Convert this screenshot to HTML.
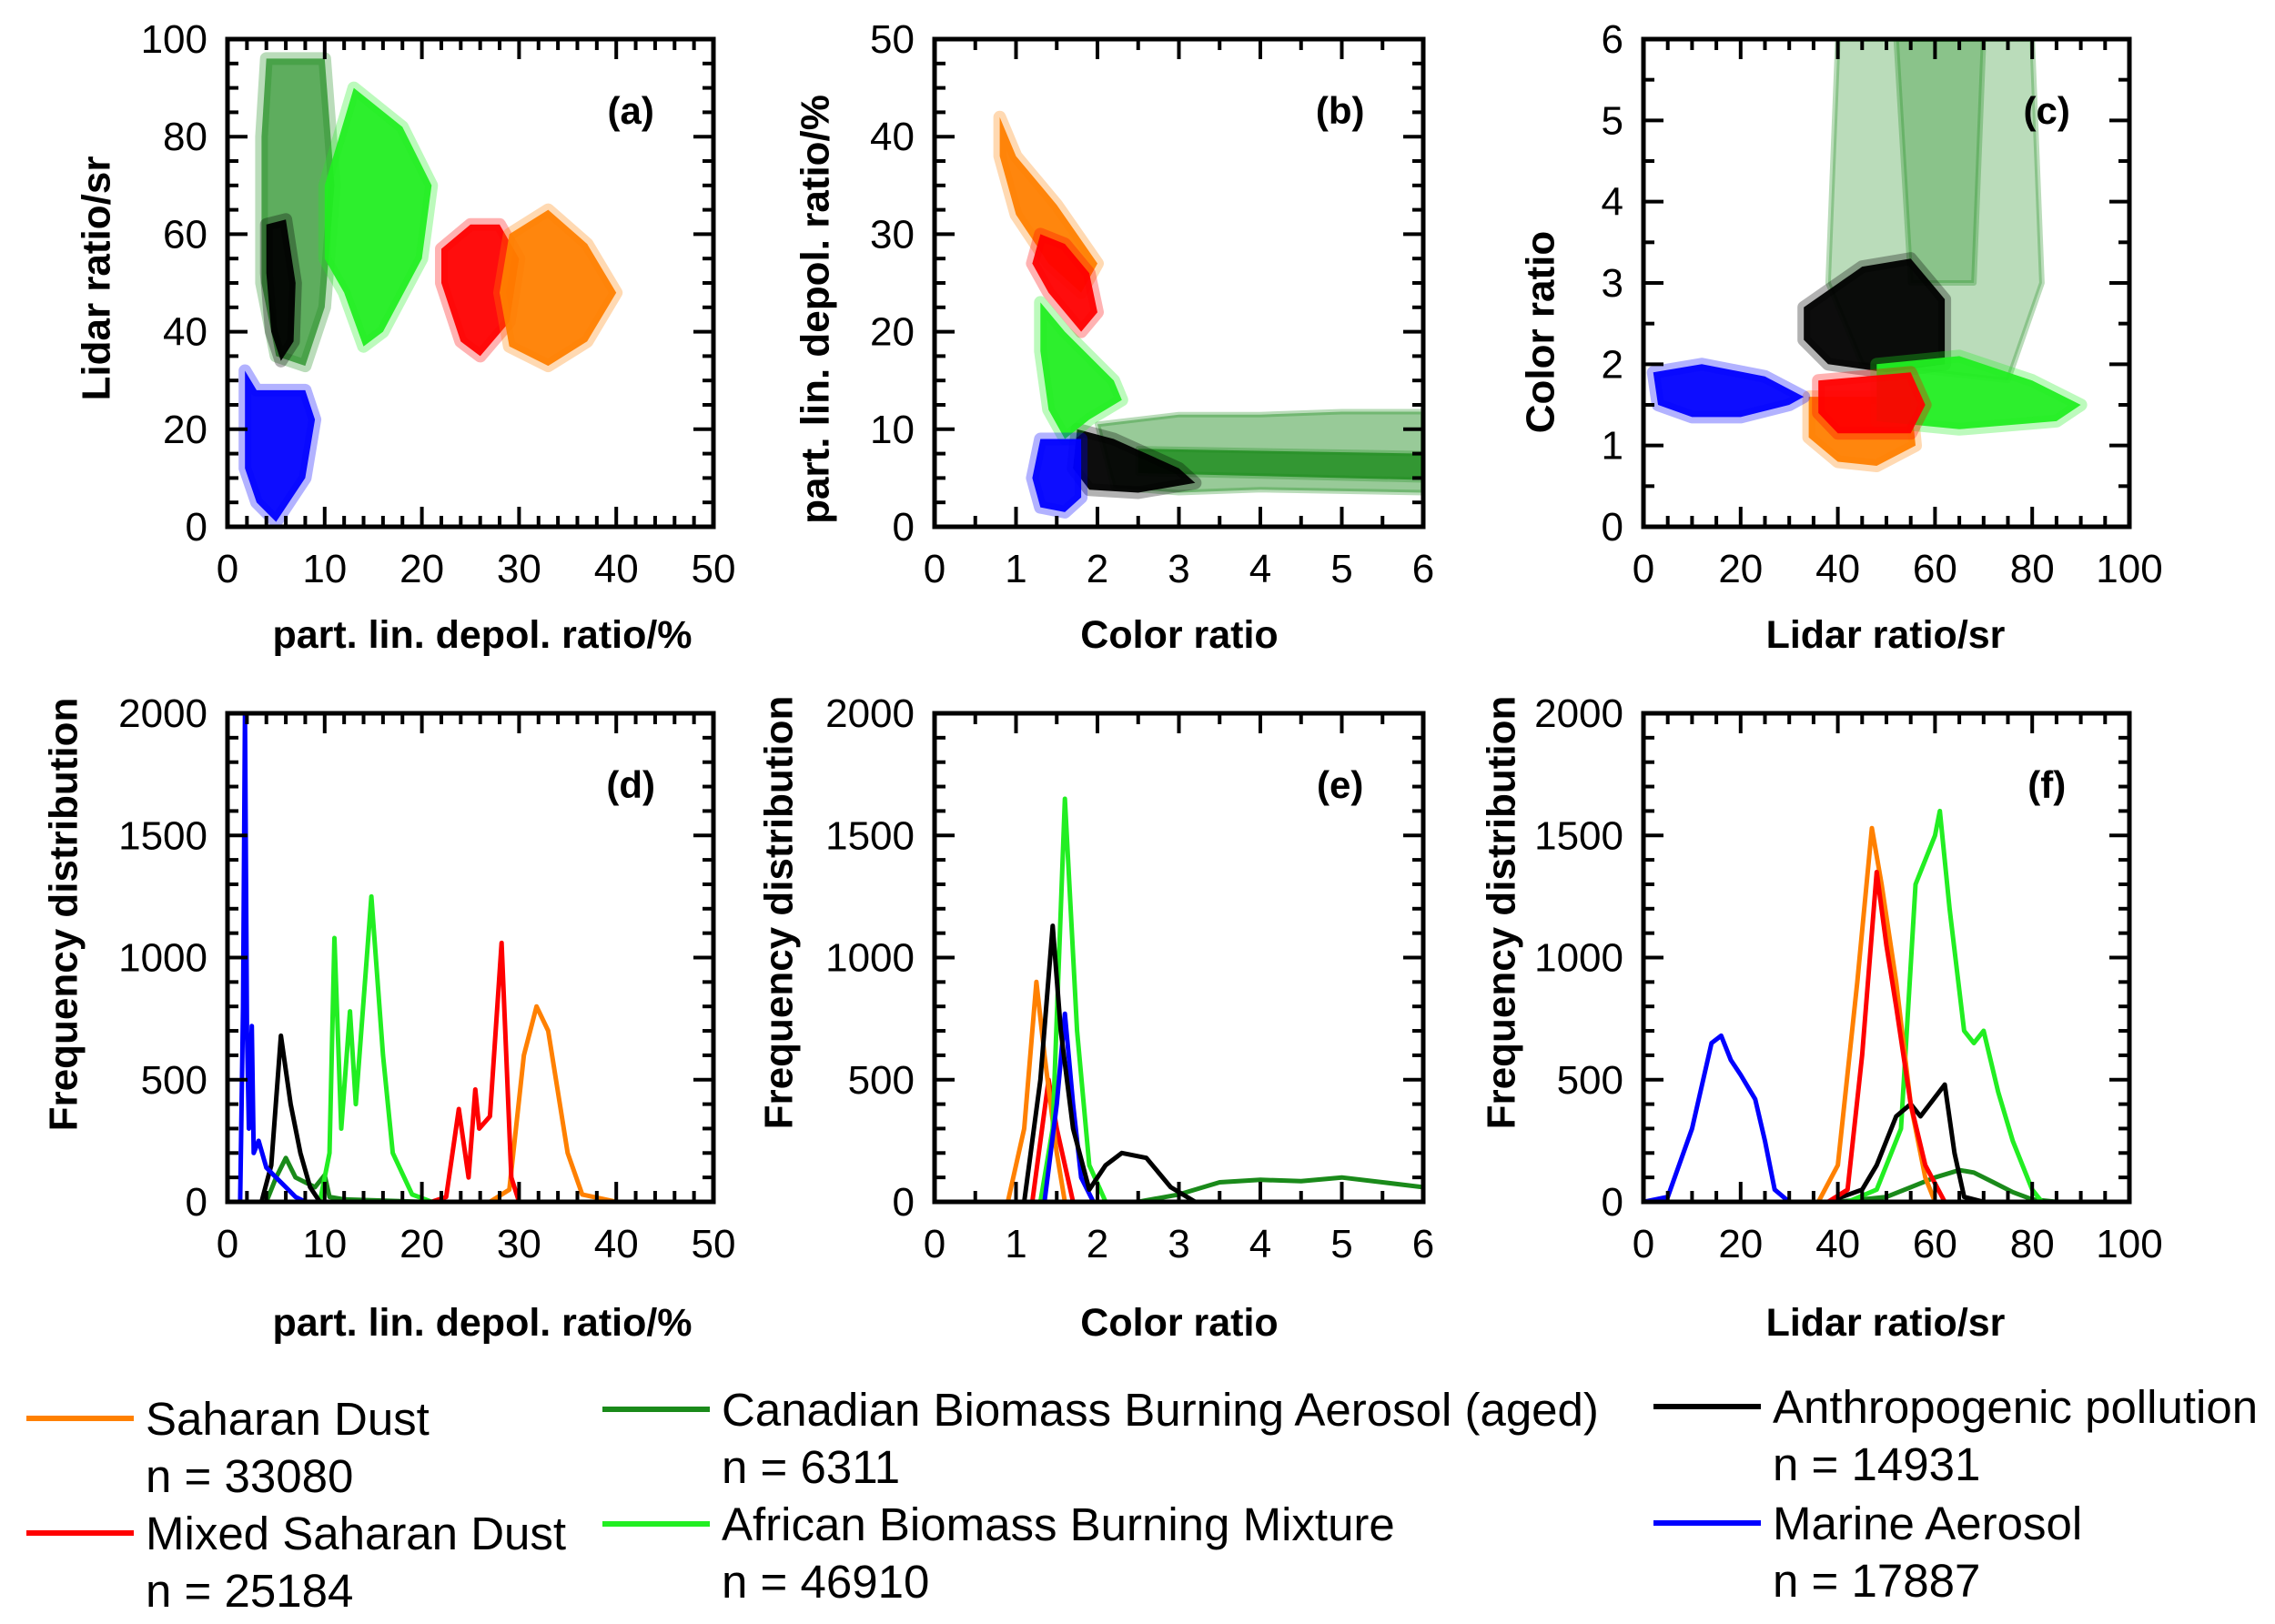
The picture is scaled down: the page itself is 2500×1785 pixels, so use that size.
<!DOCTYPE html>
<html><head><meta charset="utf-8"><style>
html,body{margin:0;padding:0;background:#fff}
svg{display:block;font-family:"Liberation Sans",Arial,sans-serif}
</style></head><body>
<svg id="fig" width="2500" height="1785" viewBox="0 0 2500 1785" xmlns="http://www.w3.org/2000/svg"></svg>
<script>
const COL={sd:'#ff8000',msd:'#ff0000',cbb:'#1a8a1a',abb:'#22ee22',ap:'#000000',ma:'#0000ff'};
// ---- Panel (d): depolarization histograms [x, count]
const dBlue=[[1.3,0],[1.6,800],[1.8,2000],[2.0,700],[2.2,300],[2.5,720],[2.7,200],[3.2,250],[4,140],[5,100],[6,60],[7,20],[8,0]];
const dBlack=[[3.5,0],[4.5,150],[5.5,680],[6.5,400],[7.5,200],[8.5,60],[9.5,0]];
const dDark=[[0,0],[4,0],[5,100],[6,180],[7,100],[8,80],[9,60],[10,110],[10.5,20],[12,10],[20,0],[50,0]];
const dLight=[[9.5,0],[10.5,200],[11,1080],[11.7,300],[12.6,780],[13.2,400],[14.8,1250],[16,600],[17,200],[19,30],[21,0]];
const dRed=[[21,0],[22.5,20],[23.8,380],[24.8,100],[25.5,460],[25.9,300],[27,350],[28.2,1060],[29.2,100],[30,0]];
const dOrange=[[27,0],[29,50],[30.5,600],[31.8,800],[33,700],[35,200],[36.5,30],[40,0],[44,0]];
// ---- Panel (e): color ratio histograms
const eOrange=[[0.9,0],[1.1,300],[1.25,900],[1.35,600],[1.5,200],[1.6,0]];
const eRed=[[1.2,0],[1.4,500],[1.5,300],[1.7,0]];
const eBlack=[[1.1,0],[1.3,500],[1.45,1130],[1.55,700],[1.7,300],[1.9,50],[2.1,150],[2.3,200],[2.6,180],[2.9,60],[3.2,0]];
const eLight=[[1.3,0],[1.45,300],[1.6,1650],[1.75,700],[1.9,150],[2.1,0]];
const eBlue=[[1.35,0],[1.5,400],[1.6,770],[1.7,400],[1.8,100],[1.95,0]];
const eDark=[[1.9,0],[2.5,0],[3,30],[3.5,80],[4,90],[4.5,85],[5,100],[5.5,80],[6,60]];
// ---- Panel (f): lidar ratio histograms
const fBlue=[[0,0],[5,20],[10,300],[14,650],[16,680],[18,580],[20,520],[23,420],[25,250],[27,50],[30,0]];
const fOrange=[[36,0],[40,150],[44,900],[47,1530],[49,1300],[52,900],[55,400],[58,100],[60,0]];
const fRed=[[38,0],[42,50],[45,600],[48,1350],[50,1050],[52,800],[55,400],[58,150],[62,0]];
const fBlack=[[38,0],[45,50],[48,150],[52,350],[55,400],[57,350],[62,480],[64,200],[66,20],[70,0]];
const fLight=[[42,0],[48,50],[53,300],[56,1300],[60,1500],[61,1600],[63,1200],[66,700],[68,650],[70,700],[73,450],[76,250],[80,50],[82,0]];
const fDark=[[40,0],[50,20],[55,60],[60,100],[65,130],[68,120],[72,80],[76,40],[80,10],[85,0]];
// ---- Scatter cluster outlines (data units)
const aDark=[[4,96],[10,96],[11,70],[10,45],[8,33],[5,35],[3.5,50],[3.5,80]];
const aBlack=[[4,62],[6,63],[7,50],[6.8,38],[5.5,34],[4.5,40],[4,52]];
const aLight=[[10,70],[13,90],[18,82],[21,70],[20,55],[16,40],[14,37],[12,48],[10,55]];
const aRed=[[22,57],[25,62],[28,62],[30,55],[29,42],[26,35],[24,38],[22,50]];
const aOrange=[[29,60],[33,65],[37,58],[40,48],[37,38],[33,33],[29,37],[28,48]];
const aBlue=[[1.8,32],[3,28],[8,28],[9,22],[8,10],[5,1],[3,5],[1.8,12]];
const bOrange=[[0.8,42],[1.0,38],[1.5,33],[2.0,27],[1.8,24],[1.4,27],[1.0,32],[0.8,38]];
const bRed=[[1.3,30],[1.6,29],[1.9,26],[2.0,22],[1.8,20],[1.4,24],[1.2,27]];
const bLight=[[1.3,23],[1.6,20],[2.2,15],[2.3,13],[1.9,11],[1.6,9],[1.4,12],[1.3,18]];
const bBlue=[[1.3,9],[1.8,9],[1.8,3],[1.6,1.5],[1.3,2],[1.2,5]];
const bBlack=[[1.75,10],[2.2,9],[3.0,6],[3.2,4.5],[2.5,3.5],[1.9,3.8],[1.7,6]];
const bDark=[[2,10.5],[3,11.5],[4,11.5],[5,11.8],[6,11.8],[6,3.5],[4,3.8],[3,3.5],[2.2,4]];
const bDarkCore=[[2.5,8],[6,7.5],[6,4.8],[2.5,5.5]];
const cDark=[[40,6],[80,6],[82,3],[75,1.8],[45,2.0],[38,3]];
const cDarkCore=[[52,6],[70,6],[68,3],[55,3]];
const cBlack=[[33,2.7],[45,3.2],[55,3.3],[62,2.8],[62,2.0],[50,1.9],[38,2.0],[33,2.3]];
const cOrange=[[34,1.6],[55,1.6],[56,1.0],[48,0.75],[40,0.8],[34,1.1]];
const cLight=[[48,2.0],[65,2.1],[80,1.8],[90,1.5],[85,1.3],[65,1.2],[48,1.3]];
const cRed=[[36,1.8],[55,1.9],[58,1.5],[55,1.15],[40,1.15],[36,1.4]];
const cBlue=[[2,1.9],[12,2.0],[25,1.85],[33,1.6],[30,1.5],[20,1.35],[10,1.35],[3,1.5]];

const NS='http://www.w3.org/2000/svg';
const svg=document.getElementById('fig');
function mk(tag,attrs,parent){const e=document.createElementNS(NS,tag);for(const k in attrs)e.setAttribute(k,attrs[k]);(parent||svg).appendChild(e);return e;}
function txt(s,attrs,parent){const e=mk('text',attrs,parent);e.textContent=s;return e;}

function panel(o){
  const g=mk('g',{});
  
  
  const sx=v=>o.x0+(v-o.xmin)/(o.xmax-o.xmin)*(o.x1-o.x0);
  const sy=v=>o.y1-(v-o.ymin)/(o.ymax-o.ymin)*(o.y1-o.y0);
  const clip='clip-'+o.name;
  const cp=mk('clipPath',{id:clip},g);mk('rect',{x:o.x0,y:o.y0,width:o.x1-o.x0,height:o.y1-o.y0},cp);
  const plot=mk('g',{'clip-path':'url(#'+clip+')'},g);
  (o.clusters||[]).forEach(c=>{
    const pts=c.pts.map(p=>sx(p[0]).toFixed(1)+','+sy(p[1]).toFixed(1)).join(' ');
    const h=mk('polygon',{points:pts,fill:c.col,stroke:c.col,'stroke-width':c.halo||14,'stroke-opacity':0.3,'fill-opacity':c.op||0.95,'stroke-linejoin':'round'},plot);
    
    
  });
  (o.lines||[]).forEach(l=>{
    const d=l.pts.map((p,i)=>(i?'L':'M')+sx(p[0]).toFixed(1)+','+sy(p[1]).toFixed(1)).join(' ');
    const p=mk('path',{d:d,fill:'none',stroke:l.col,'stroke-width':5,'stroke-linejoin':'round'},plot);
    
    
  });
  const tg=mk('g',{stroke:'#000','stroke-width':4},g);
  for(let v=o.xmin;v<=o.xmax+1e-9;v+=o.xminor){
    const maj=Math.abs(((v-o.xmin)/o.xmajor)-Math.round((v-o.xmin)/o.xmajor))<1e-6;
    const L=maj?22:12,X=sx(v);
    mk('line',{x1:X,y1:o.y1,x2:X,y2:o.y1-L},tg);mk('line',{x1:X,y1:o.y0,x2:X,y2:o.y0+L},tg);
  }
  for(let v=o.ymin;v<=o.ymax+1e-9;v+=o.yminor){
    const maj=Math.abs(((v-o.ymin)/o.ymajor)-Math.round((v-o.ymin)/o.ymajor))<1e-6;
    const L=maj?22:12,Y=sy(v);
    mk('line',{x1:o.x0,y1:Y,x2:o.x0+L,y2:Y},tg);mk('line',{x1:o.x1,y1:Y,x2:o.x1-L,y2:Y},tg);
  }
  mk('rect',{x:o.x0,y:o.y0,width:o.x1-o.x0,height:o.y1-o.y0,fill:'none',stroke:'#000','stroke-width':5},g);
  o.xticks.forEach(t=>{const e=txt(String(t),{x:sx(t),y:o.y1+61,'font-size':44,'text-anchor':'middle'},g);
    });
  o.yticks.forEach(t=>{const e=txt(String(t),{x:o.x0-22,y:sy(t)+15,'font-size':44,'text-anchor':'end'},g);
    });
  const xt=txt(o.xtitle,{x:o.xtx,y:o.y1+o.xty,'font-size':43,'font-weight':'bold','text-anchor':'middle'},g);
  
  const cy=o.ytc;
  const yt=txt(o.ytitle,{x:o.ytx,y:cy,'font-size':44,'font-weight':'bold','text-anchor':'middle',transform:'rotate(-90 '+o.ytx+' '+cy+')','dominant-baseline':'central'},g);
  
  const pl=txt(o.label,{x:o.x0+(o.x1-o.x0)*0.83,y:o.y0+93,'font-size':42,'font-weight':'bold','text-anchor':'middle'},g);
  
}
const R1={y0:43,y1:579,xty:133},R2={y0:784,y1:1321,xty:147};
const C1={x0:250,x1:784},C2={x0:1027,x1:1564},C3={x0:1806,x1:2340};
const depT=[0,10,20,30,40,50],crT=[0,1,2,3,4,5,6],lrT=[0,20,40,60,80,100];
panel(Object.assign({name:'panel-a',label:'(a)',xmin:0,xmax:50,ymin:0,ymax:100,xmajor:10,xminor:2,ymajor:20,yminor:5,
  xticks:depT,yticks:lrT,xtitle:'part. lin. depol. ratio/%',ytitle:'Lidar ratio/sr',xtx:530,ytx:106,ytc:306,
  clusters:[{pts:aDark,col:COL.cbb,op:0.7,name:'cluster-canadian'},{pts:aBlack,col:COL.ap,name:'cluster-anthropogenic'},{pts:aLight,col:COL.abb,name:'cluster-african'},{pts:aRed,col:COL.msd,name:'cluster-mixed-dust'},{pts:aOrange,col:COL.sd,name:'cluster-saharan'},{pts:aBlue,col:COL.ma,name:'cluster-marine'}]},C1,R1));
panel(Object.assign({name:'panel-b',label:'(b)',xmin:0,xmax:6,ymin:0,ymax:50,xmajor:1,xminor:0.5,ymajor:10,yminor:2.5,
  xticks:crT,yticks:[0,10,20,30,40,50],xtitle:'Color ratio',ytitle:'part. lin. depol. ratio/%',xtx:1296,ytx:896,ytc:340,
  clusters:[{pts:bDark,col:COL.cbb,op:0.45,halo:6,name:'cluster-canadian'},{pts:bDarkCore,col:COL.cbb,op:0.8,halo:6,name:'cluster-canadian-core'},{pts:bBlack,col:COL.ap,name:'cluster-anthropogenic'},{pts:bOrange,col:COL.sd,name:'cluster-saharan'},{pts:bRed,col:COL.msd,name:'cluster-mixed-dust'},{pts:bLight,col:COL.abb,name:'cluster-african'},{pts:bBlue,col:COL.ma,name:'cluster-marine'}]},C2,R1));
panel(Object.assign({name:'panel-c',label:'(c)',xmin:0,xmax:100,ymin:0,ymax:6,xmajor:20,xminor:5,ymajor:1,yminor:0.5,
  xticks:lrT,yticks:crT,xtitle:'Lidar ratio/sr',ytitle:'Color ratio',xtx:2072,ytx:1693,ytc:365,
  clusters:[{pts:cDark,col:COL.cbb,op:0.3,halo:6,name:'cluster-canadian'},{pts:cDarkCore,col:COL.cbb,op:0.3,halo:6,name:'cluster-canadian-core'},{pts:cBlack,col:COL.ap,name:'cluster-anthropogenic'},{pts:cOrange,col:COL.sd,name:'cluster-saharan'},{pts:cLight,col:COL.abb,name:'cluster-african'},{pts:cRed,col:COL.msd,name:'cluster-mixed-dust'},{pts:cBlue,col:COL.ma,name:'cluster-marine'}]},C3,R1));
const fT=[0,500,1000,1500,2000];
panel(Object.assign({name:'panel-d',label:'(d)',xmin:0,xmax:50,ymin:0,ymax:2000,xmajor:10,xminor:2,ymajor:500,yminor:100,
  xticks:depT,yticks:fT,xtitle:'part. lin. depol. ratio/%',ytitle:'Frequency distribution',xtx:530,ytx:70,ytc:1005,
  lines:[{pts:dDark,col:COL.cbb,name:'line-canadian'},{pts:dOrange,col:COL.sd,name:'line-saharan'},{pts:dRed,col:COL.msd,name:'line-mixed-dust'},{pts:dLight,col:COL.abb,name:'line-african'},{pts:dBlack,col:COL.ap,name:'line-anthropogenic'},{pts:dBlue,col:COL.ma,name:'line-marine'}]},C1,R2));
panel(Object.assign({name:'panel-e',label:'(e)',xmin:0,xmax:6,ymin:0,ymax:2000,xmajor:1,xminor:0.5,ymajor:500,yminor:100,
  xticks:crT,yticks:fT,xtitle:'Color ratio',ytitle:'Frequency distribution',xtx:1296,ytx:856,ytc:1003,
  lines:[{pts:eDark,col:COL.cbb,name:'line-canadian'},{pts:eRed,col:COL.msd,name:'line-mixed-dust'},{pts:eOrange,col:COL.sd,name:'line-saharan'},{pts:eLight,col:COL.abb,name:'line-african'},{pts:eBlue,col:COL.ma,name:'line-marine'},{pts:eBlack,col:COL.ap,name:'line-anthropogenic'}]},C2,R2));
panel(Object.assign({name:'panel-f',label:'(f)',xmin:0,xmax:100,ymin:0,ymax:2000,xmajor:20,xminor:5,ymajor:500,yminor:100,
  xticks:lrT,yticks:fT,xtitle:'Lidar ratio/sr',ytitle:'Frequency distribution',xtx:2072,ytx:1650,ytc:1003,
  lines:[{pts:fDark,col:COL.cbb,name:'line-canadian'},{pts:fLight,col:COL.abb,name:'line-african'},{pts:fOrange,col:COL.sd,name:'line-saharan'},{pts:fBlack,col:COL.ap,name:'line-anthropogenic'},{pts:fRed,col:COL.msd,name:'line-mixed-dust'},{pts:fBlue,col:COL.ma,name:'line-marine'}]},C3,R2));

const legNames=['Saharan Dust','Mixed Saharan Dust','Canadian Biomass Burning Aerosol (aged)','African Biomass Burning Mixture','Anthropogenic pollution','Marine Aerosol'];
const legCounts=['n = 33080','n = 25184','n = 6311','n = 46910','n = 14931','n = 17887'];
const legCols=[COL.sd,COL.msd,COL.cbb,COL.abb,COL.ap,COL.ma];
const legPos=[[29,1559],[29,1685],[662,1549],[662,1675],[1817,1546],[1817,1674]];
const lg=mk('g',{});


legNames.forEach((n,i)=>{
  const [x,y]=legPos[i];
  const e=mk('g',{},lg);
  
  
  mk('line',{x1:x,y1:y,x2:x+118,y2:y,stroke:legCols[i],'stroke-width':6},e);
  txt(n,{x:x+131,y:y+18,'font-size':51},e);
  txt(legCounts[i],{x:x+131,y:y+81,'font-size':51},e);
});
</script>
</body></html>
